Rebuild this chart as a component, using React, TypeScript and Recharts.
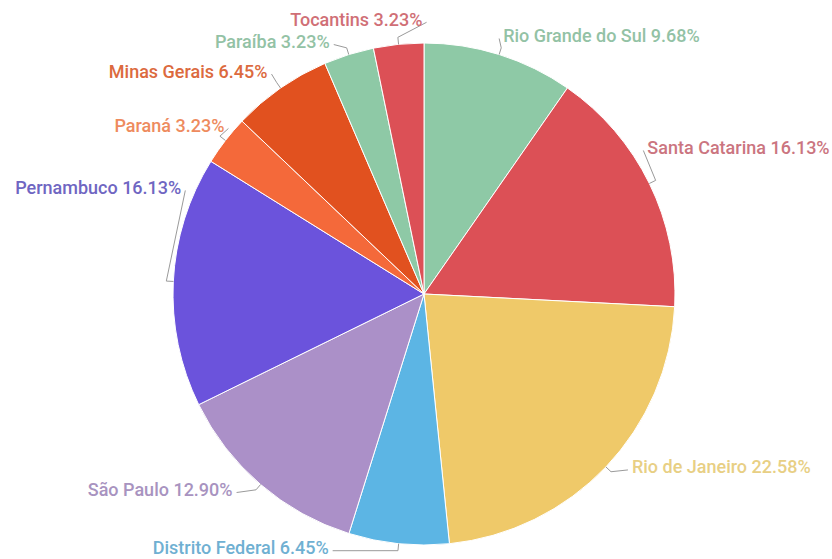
import React from 'react';
import { PieChart, Pie, Cell } from 'recharts';

const states = ['Rio Grande do Sul', 'Santa Catarina', 'Rio de Janeiro', 'Distrito Federal', 'São Paulo', 'Pernambuco', 'Paraná', 'Minas Gerais', 'Paraíba', 'Tocantins'];
const shares = [9.68, 16.13, 22.58, 6.45, 12.9, 16.13, 3.23, 6.45, 3.23, 3.23];

const SLICE_COLORS = ['#8ec9a6', '#dc5056', '#efc969', '#5cb5e4', '#ab90c8', '#6b53dc', '#f4693a', '#e1511f', '#8ec9a6', '#dc5056'];
const TEXT_COLORS = ['#93c2a5', '#cb7580', '#e8cf84', '#6fb0d2', '#a893c0', '#6f66c2', '#ee8b5e', '#dc6a3e', '#93c2a5', '#d06f76'];

// where each label sits, relative to the outer edge point of its slice
const LABEL_NUDGE: Record<string, { dx: number; dy: number; anchor: 'start' | 'end' }> = {
  'Rio Grande do Sul': { dx: 4, dy: -19, anchor: 'start' },
  'Santa Catarina': { dx: -2, dy: -36, anchor: 'start' },
  'Rio de Janeiro': { dx: 26, dy: 0, anchor: 'start' },
  'Distrito Federal': { dx: -70, dy: 4, anchor: 'end' },
  'São Paulo': { dx: -28, dy: 5, anchor: 'end' },
  'Pernambuco': { dx: 8, dy: -94, anchor: 'end' },
  'Paraná': { dx: -1, dy: -15, anchor: 'end' },
  'Minas Gerais': { dx: -13, dy: -17, anchor: 'end' },
  'Paraíba': { dx: -19, dy: -13, anchor: 'end' },
  'Tocantins': { dx: 24, dy: -25, anchor: 'end' },
};

const data = states.map((name, i) => ({ name, value: shares[i] }));

const RADIAN = Math.PI / 180;

const renderLabel = (props: any) => {
  const { cx, cy, midAngle, outerRadius, index } = props;
  const name = states[index];
  const nudge = LABEL_NUDGE[name];
  const cos = Math.cos(-midAngle * RADIAN);
  const sin = Math.sin(-midAngle * RADIAN);
  const x0 = cx + outerRadius * cos;
  const y0 = cy + outerRadius * sin;
  const x1 = cx + (outerRadius + 7) * cos;
  const y1 = cy + (outerRadius + 7) * sin;
  const tx = x0 + nudge.dx;
  const ty = y0 + nudge.dy;
  const ax = nudge.anchor === 'end' ? tx + 4 : tx - 4;
  const ay = ty + 3;
  return (
    <g key={`lbl-${index}`}>
      <path d={`M${x0},${y0}L${x1},${y1}L${ax},${ay}`} stroke="#9a9a9a" strokeWidth={1} fill="none" />
      <text
        x={tx}
        y={ty}
        textAnchor={nudge.anchor}
        dominantBaseline="central"
        fill={TEXT_COLORS[index]}
        fontFamily="Roboto, sans-serif"
        fontWeight={500}
        fontSize={18}
      >
        {`${name} ${shares[index].toFixed(2)}%`}
      </text>
    </g>
  );
};

export default function App() {
  return (
    <div style={{ position: 'absolute', left: 0, top: 0, width: 832, height: 559, background: '#fff' }}>
      <PieChart width={832} height={559} margin={{ top: 0, right: 0, bottom: 0, left: 0 }}>
        <Pie
          data={data}
          dataKey="value"
          nameKey="name"
          cx={424}
          cy={294}
          outerRadius={251}
          startAngle={90}
          endAngle={-270}
          stroke="#ffffff"
          strokeWidth={1}
          label={renderLabel}
          labelLine={false}
          isAnimationActive={false}
        >
          {data.map((d, i) => (
            <Cell key={d.name} fill={SLICE_COLORS[i]} />
          ))}
        </Pie>
      </PieChart>
    </div>
  );
}
